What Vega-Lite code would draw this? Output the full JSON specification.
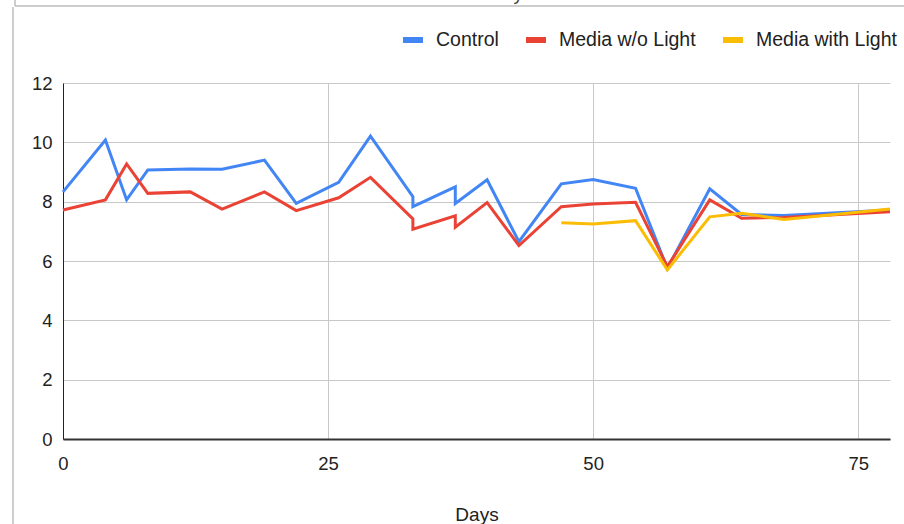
{
  "$schema": "https://vega.github.io/schema/vega-lite/v6.json",
  "width": 827,
  "height": 356,
  "autosize": {"type": "none"},
  "padding": {"left": 63, "top": 83, "right": 14, "bottom": 85},
  "background": "white",
  "config": {
    "font": "Liberation Sans",
    "view": {"stroke": null},
    "axis": {
      "labelFont": "Liberation Sans",
      "titleFont": "Liberation Sans",
      "labelColor": "#222222",
      "titleColor": "#222222",
      "gridColor": "#c8c8c8",
      "gridWidth": 1,
      "ticks": false,
      "labelFlush": false
    },
    "legend": {"labelFont": "Liberation Sans"}
  },
  "datasets": {
    "readings": [
      {"series": "Control", "day": 0, "value": 8.33, "seq": 1},
      {"series": "Control", "day": 4, "value": 10.08, "seq": 2},
      {"series": "Control", "day": 6, "value": 8.06, "seq": 3},
      {"series": "Control", "day": 8, "value": 9.07, "seq": 4},
      {"series": "Control", "day": 12, "value": 9.1, "seq": 5},
      {"series": "Control", "day": 15, "value": 9.09, "seq": 6},
      {"series": "Control", "day": 19, "value": 9.4, "seq": 7},
      {"series": "Control", "day": 22, "value": 7.94, "seq": 8},
      {"series": "Control", "day": 26, "value": 8.65, "seq": 9},
      {"series": "Control", "day": 29, "value": 10.21, "seq": 10},
      {"series": "Control", "day": 33, "value": 8.17, "seq": 11},
      {"series": "Control", "day": 33, "value": 7.83, "seq": 12},
      {"series": "Control", "day": 37, "value": 8.5, "seq": 13},
      {"series": "Control", "day": 37, "value": 7.94, "seq": 14},
      {"series": "Control", "day": 40, "value": 8.74, "seq": 15},
      {"series": "Control", "day": 43, "value": 6.65, "seq": 16},
      {"series": "Control", "day": 47, "value": 8.6, "seq": 17},
      {"series": "Control", "day": 50, "value": 8.75, "seq": 18},
      {"series": "Control", "day": 54, "value": 8.45, "seq": 19},
      {"series": "Control", "day": 57, "value": 5.75, "seq": 20},
      {"series": "Control", "day": 61, "value": 8.43, "seq": 21},
      {"series": "Control", "day": 64, "value": 7.57, "seq": 22},
      {"series": "Control", "day": 68, "value": 7.53, "seq": 23},
      {"series": "Control", "day": 78, "value": 7.72, "seq": 24},
      {"series": "Media w/o Light", "day": 0, "value": 7.72, "seq": 1},
      {"series": "Media w/o Light", "day": 4, "value": 8.06, "seq": 2},
      {"series": "Media w/o Light", "day": 6, "value": 9.27, "seq": 3},
      {"series": "Media w/o Light", "day": 8, "value": 8.28, "seq": 4},
      {"series": "Media w/o Light", "day": 12, "value": 8.33, "seq": 5},
      {"series": "Media w/o Light", "day": 15, "value": 7.75, "seq": 6},
      {"series": "Media w/o Light", "day": 19, "value": 8.33, "seq": 7},
      {"series": "Media w/o Light", "day": 22, "value": 7.7, "seq": 8},
      {"series": "Media w/o Light", "day": 26, "value": 8.13, "seq": 9},
      {"series": "Media w/o Light", "day": 29, "value": 8.82, "seq": 10},
      {"series": "Media w/o Light", "day": 33, "value": 7.42, "seq": 11},
      {"series": "Media w/o Light", "day": 33, "value": 7.07, "seq": 12},
      {"series": "Media w/o Light", "day": 37, "value": 7.52, "seq": 13},
      {"series": "Media w/o Light", "day": 37, "value": 7.14, "seq": 14},
      {"series": "Media w/o Light", "day": 40, "value": 7.97, "seq": 15},
      {"series": "Media w/o Light", "day": 43, "value": 6.52, "seq": 16},
      {"series": "Media w/o Light", "day": 47, "value": 7.83, "seq": 17},
      {"series": "Media w/o Light", "day": 50, "value": 7.92, "seq": 18},
      {"series": "Media w/o Light", "day": 54, "value": 7.98, "seq": 19},
      {"series": "Media w/o Light", "day": 57, "value": 5.81, "seq": 20},
      {"series": "Media w/o Light", "day": 61, "value": 8.06, "seq": 21},
      {"series": "Media w/o Light", "day": 64, "value": 7.44, "seq": 22},
      {"series": "Media w/o Light", "day": 68, "value": 7.47, "seq": 23},
      {"series": "Media w/o Light", "day": 78, "value": 7.66, "seq": 24},
      {"series": "Media with Light", "day": 47, "value": 7.29, "seq": 17},
      {"series": "Media with Light", "day": 50, "value": 7.25, "seq": 18},
      {"series": "Media with Light", "day": 54, "value": 7.36, "seq": 19},
      {"series": "Media with Light", "day": 57, "value": 5.7, "seq": 20},
      {"series": "Media with Light", "day": 61, "value": 7.49, "seq": 21},
      {"series": "Media with Light", "day": 64, "value": 7.61, "seq": 22},
      {"series": "Media with Light", "day": 68, "value": 7.4, "seq": 23},
      {"series": "Media with Light", "day": 78, "value": 7.75, "seq": 24}
    ]
  },
  "layer": [
    {
      "data": {"name": "readings"},
      "mark": {"type": "line", "strokeWidth": 3, "interpolate": "linear"},
      "encoding": {
        "x": {
          "field": "day",
          "type": "quantitative",
          "scale": {"domain": [0, 78], "nice": false, "zero": false},
          "axis": {
            "title": "Days",
            "values": [0, 25, 50, 75],
            "labelFontSize": 18.5,
            "labelPadding": 15,
            "titleFontSize": 19,
            "titleFontWeight": "normal",
            "titlePadding": 33,
            "domainColor": "#333333",
            "domainWidth": 2
          }
        },
        "y": {
          "field": "value",
          "type": "quantitative",
          "scale": {"domain": [0, 12], "nice": false},
          "axis": {
            "title": null,
            "values": [0, 2, 4, 6, 8, 10, 12],
            "labelFontSize": 18.5,
            "labelPadding": 11,
            "domainColor": "#222222",
            "domainWidth": 1
          }
        },
        "color": {
          "field": "series",
          "type": "nominal",
          "scale": {
            "domain": ["Control", "Media w/o Light", "Media with Light"],
            "range": ["#4285f4", "#ea4335", "#fbbc04"]
          },
          "legend": {
            "title": null,
            "orient": "none",
            "direction": "horizontal",
            "legendX": 337,
            "legendY": -56,
            "symbolType": "stroke",
            "symbolSize": 400,
            "symbolStrokeWidth": 6,
            "labelFontSize": 19.5,
            "labelColor": "#222222",
            "labelOffset": 10,
            "columnPadding": 15
          }
        },
        "order": {"field": "seq", "type": "quantitative"}
      }
    },
    {
      "data": {"values": [{}]},
      "mark": {"type": "rule", "color": "#bdbdbd", "strokeWidth": 1.5, "clip": false},
      "encoding": {
        "x": {"datum": -4.716, "type": "quantitative"},
        "y": {"datum": 14.56, "type": "quantitative"},
        "y2": {"datum": -2.9}
      }
    },
    {
      "data": {"values": [{}]},
      "mark": {"type": "rule", "color": "#bdbdbd", "strokeWidth": 1.5, "clip": false},
      "encoding": {
        "x": {"datum": -4.53, "type": "quantitative"},
        "x2": {"datum": 79.4},
        "y": {"datum": 14.596, "type": "quantitative"}
      }
    },
    {
      "data": {"values": [{}]},
      "mark": {"type": "rule", "color": "#bdbdbd", "strokeWidth": 1.5, "clip": false},
      "encoding": {
        "x": {"datum": -4.53, "type": "quantitative"},
        "y": {"datum": 14.596, "type": "quantitative"},
        "y2": {"datum": 15.0}
      }
    },
    {
      "data": {"values": [{}]},
      "mark": {"type": "text", "text": "Days", "fontSize": 19, "color": "#444444", "align": "center", "baseline": "alphabetic", "clip": false},
      "encoding": {
        "x": {"datum": 42.25, "type": "quantitative"},
        "y": {"datum": 14.8, "type": "quantitative"}
      }
    }
  ]
}
